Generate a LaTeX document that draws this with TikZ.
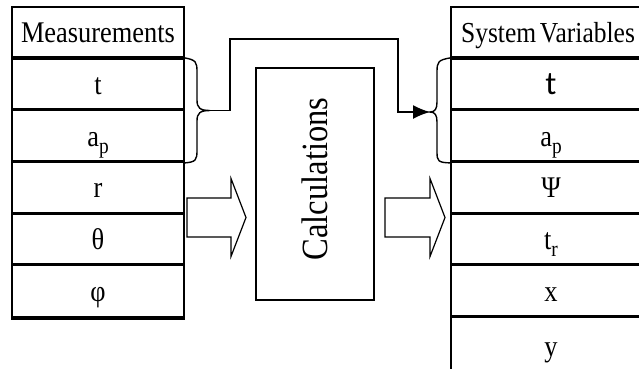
\documentclass[tikz,border=0pt]{standalone}
\usepackage{fontspec}
\setmainfont{Liberation Serif}[FakeStretch=0.88]
\newfontfamily\calibrilike{Carlito}
\usetikzlibrary{arrows.meta}

% lowered subscript, as set in the table rows
\newcommand{\lowsub}[1]{\raisebox{-0.24em}{\fontsize{22}{22}\selectfont #1}}

\tikzset{
  cell/.style={draw, line width=1.6pt, minimum width=172pt, minimum height=51.7pt,
    inner sep=0pt, text height=20pt, text depth=0pt,
    font=\fontsize{30}{30}\selectfont},
  rcell/.style={cell, minimum width=200pt},
  sep/.style={line width=3pt},
  box/.style={draw, line width=1.6pt, minimum width=118pt, minimum height=232pt, inner sep=0pt},
  bigarrow/.style={draw, line width=1.2pt, line join=miter},
  brace/.style={line width=1.4pt},
  link/.style={line width=1.4pt}
}

\begin{document}
\begin{tikzpicture}[x=1pt, y=-1pt]
  \useasboundingbox (0,0) rectangle (639,368);
  \clip (0,0) rectangle (639,368);

  % measured inputs
  \node[cell] (mhead) at (98, 32.85)  {Measurements};
  \node[cell] (mt)    at (98, 84.55)  {t};
  \node[cell] (map)   at (98, 136.25) {a\lowsub{p}};
  \node[cell] (mr)    at (98, 187.95) {r};
  \node[cell] (mth)   at (98, 239.65) {θ};
  \node[cell] (mphi)  at (98, 291.35) {φ};
  \foreach \n in {mt, map, mr, mth, mphi}
    \draw[sep] (\n.north west) -- (\n.north east);
  \draw[sep] (mphi.south west) -- (mphi.south east);

  % system variables
  \node[rcell, font=\fontsize{29}{29}\selectfont] (shead) at (551, 32.85)
    {System\hspace{0.13em}Variables\hspace*{6pt}};
  \node[rcell] (st)    at (551, 84.55)  {\calibrilike\fontsize{33}{33}\selectfont t};
  \node[rcell] (sap)   at (551, 136.25) {a\lowsub{p}};
  \node[rcell] (spsi)  at (551, 187.95) {Ψ};
  \node[rcell] (str)   at (551, 239.65) {t\lowsub{r}};
  \node[rcell] (sx)    at (551, 291.35) {x};
  \node[rcell, minimum height=58pt] (sy) at (551, 346.2) {y};
  \foreach \n in {st, sap, spsi, str, sx, sy}
    \draw[sep] (\n.north west) -- (\n.north east);

  % processing block
  \node[box] (calc) at (315, 184) {};
  \node[rotate=90, font=\fontsize{37}{37}\selectfont] (calctext) at (315, 179) {Calculations};

  % block arrows in and out
  \coordinate (inA) at (187, 217.5);
  \draw[bigarrow] (inA) ++(0,-19.5) -- ++(44,0) -- ++(0,-19.5) -- ++(15,39)
    -- ++(-15,39) -- ++(0,-19.5) -- ++(-44,0) -- cycle;
  \coordinate (outA) at (385, 217.5);
  \draw[bigarrow] (outA) ++(0,-19.5) -- ++(45,0) -- ++(0,-19.5) -- ++(15,39)
    -- ++(-15,39) -- ++(0,-19.5) -- ++(-45,0) -- cycle;

  % braces grouping t and a_p
  \coordinate (lb) at (210, 110.5);
  \draw[brace] (mt.north east) .. controls (196,60) and (197,62) .. (197,72)
    -- (197,100) .. controls (197,108) and (200,110.5) .. (lb)
    .. controls (200,110.5) and (197,113) .. (197,121)
    -- (197,150) .. controls (197,160) and (196,162) .. (map.south east);
  \coordinate (rb) at (430, 112);
  \draw[brace] (st.north west) .. controls (438,60) and (437,62) .. (437,72)
    -- (437,102) .. controls (437,109) and (435,112) .. (rb)
    .. controls (435,112) and (437,115) .. (437,122)
    -- (437,152) .. controls (437,161) and (438,162.5) .. (sap.south west);

  % link between the two groups
  \draw[link, -{Latex[length=17pt, width=14pt]}]
    (lb) -- (230,110.5) -- (230,39) -- (398,39) -- (398,112) -- (rb);
\end{tikzpicture}
\end{document}
